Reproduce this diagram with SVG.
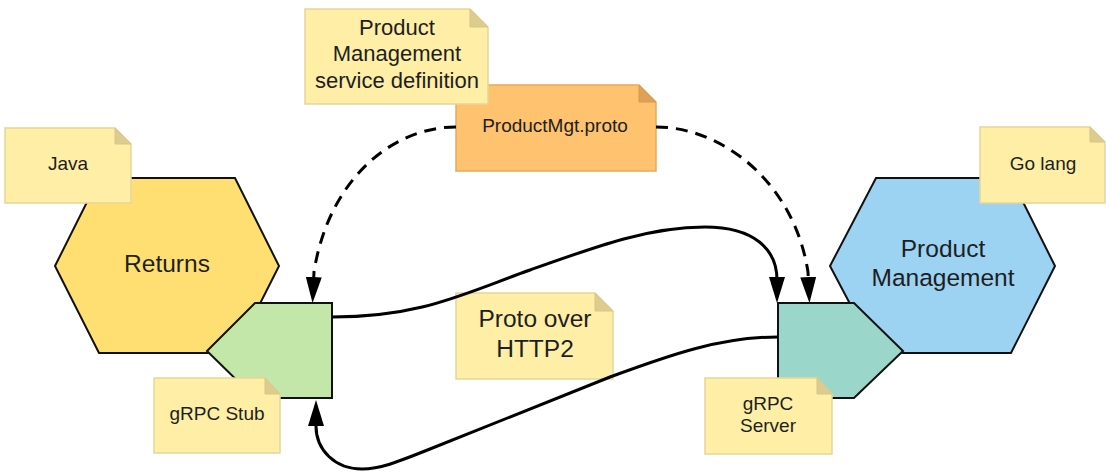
<svg xmlns="http://www.w3.org/2000/svg" width="1106" height="474" viewBox="0 0 1106 474">
  <style>
    text { font-family: "Liberation Sans", Arial, sans-serif; fill: #1e1e1e; text-anchor: middle; }
    .big { font-size: 24.5px; }
    .mid { font-size: 22px; }
    .small { font-size: 19px; }
    .shape { stroke: #111; stroke-width: 2; stroke-linejoin: miter; }
    .note { fill: #FFEEA6; stroke: #E6D699; stroke-width: 1.5; }
    .fold { fill: #DCCC8E; stroke: #D6C687; stroke-width: 1; }
    .onote { fill: #FFC26E; stroke: #E9AB5C; stroke-width: 1.5; }
    .ofold { fill: #DDA256; stroke: #D69A50; stroke-width: 1; }
    .conn { fill: none; stroke: #000; stroke-width: 3; }
    .dash { stroke-dasharray: 12 8; }
  </style>
  <defs>
    <marker id="arrow" viewBox="0 0 26 16" refX="16" refY="8" markerWidth="26" markerHeight="16" markerUnits="userSpaceOnUse" orient="auto">
      <path d="M0,0 L26,8 L0,16 Z" fill="#000"/>
    </marker>
  </defs>

  <rect width="1106" height="474" fill="#fff"/>

  <g id="returns">
    <polygon class="shape" fill="#FFDF71" points="55,266 99,178 235,178 279,266 235,353 99,353"/>
    <text class="big" x="167" y="272">Returns</text>
  </g>

  <g id="product-management">
    <polygon class="shape" fill="#9CD2F2" points="830,266 876,178 1011,178 1055,266 1011,353 876,353"/>
    <text class="big" x="943" y="257">Product</text>
    <text class="big" x="943" y="286">Management</text>
  </g>

  <g id="grpc-stub-shape">
    <polygon class="shape" fill="#C3E7A9" points="207,351 255,303 332,303 332,398 255,398"/>
  </g>

  <g id="grpc-server-shape">
    <polygon class="shape" fill="#9AD6C9" points="778,303 854,303 903,351 854,398 778,398"/>
  </g>

  <g id="proto-file">
    <path class="onote" d="M456,85 H639 L656,102 V171 H456 Z"/>
    <path class="ofold" d="M639,85 L656,102 H639 Z"/>
    <text class="small" x="555" y="132">ProductMgt.proto</text>
  </g>

  <g id="service-definition-note">
    <path class="note" d="M305,9 H470 L488,27 V104 H305 Z"/>
    <path class="fold" d="M470,9 L488,27 H470 Z"/>
    <text class="mid" x="397" y="35">Product</text>
    <text class="mid" x="397" y="61">Management</text>
    <text class="mid" x="397" y="88">service definition</text>
  </g>

  <g id="java-note">
    <path class="note" d="M5,128 H115 L131,144 V203 H5 Z"/>
    <path class="fold" d="M115,128 L131,144 H115 Z"/>
    <text class="small" x="68" y="170">Java</text>
  </g>

  <g id="golang-note">
    <path class="note" d="M980,127 H1090 L1105,142 V203 H980 Z"/>
    <path class="fold" d="M1090,127 L1105,142 H1090 Z"/>
    <text class="small" x="1043" y="170">Go lang</text>
  </g>

  <g id="grpc-stub-note">
    <path class="note" d="M154,378 H265 L280,394 V453 H154 Z"/>
    <path class="fold" d="M265,378 L280,394 H265 Z"/>
    <text class="small" x="217" y="420">gRPC Stub</text>
  </g>

  <g id="grpc-server-note">
    <path class="note" d="M705,378 H817 L832,394 V454 H705 Z"/>
    <path class="fold" d="M817,378 L832,394 H817 Z"/>
    <text class="small" x="768" y="410">gRPC</text>
    <text class="small" x="768" y="432">Server</text>
  </g>

  <g id="protocol-note">
    <path class="note" d="M456,293 H595 L613,311 V379 H456 Z"/>
    <path class="fold" d="M595,293 L613,311 H595 Z"/>
    <text class="big" x="535" y="327">Proto over</text>
    <text class="big" x="535" y="357">HTTP2</text>
  </g>

  <g id="connectors">
    <path class="conn dash" marker-end="url(#arrow)" d="M456,127 C390,127 328,182 314,272 L313,293"/>
    <path class="conn dash" marker-end="url(#arrow)" d="M656,127 C722,127 794,182 808,272 L809,293"/>
    <path class="conn" marker-end="url(#arrow)" d="M332,317 C420,317 460,295 530,270 S650,227 705,227 C755,227 777,250 777,280 L777,293"/>
    <path class="conn" marker-end="url(#arrow)" d="M778,337 C720,337 670,355 610,377 L430,449 C395,463 380,469 362,469 C335,469 316,450 316,426 L316,410"/>
  </g>
</svg>
